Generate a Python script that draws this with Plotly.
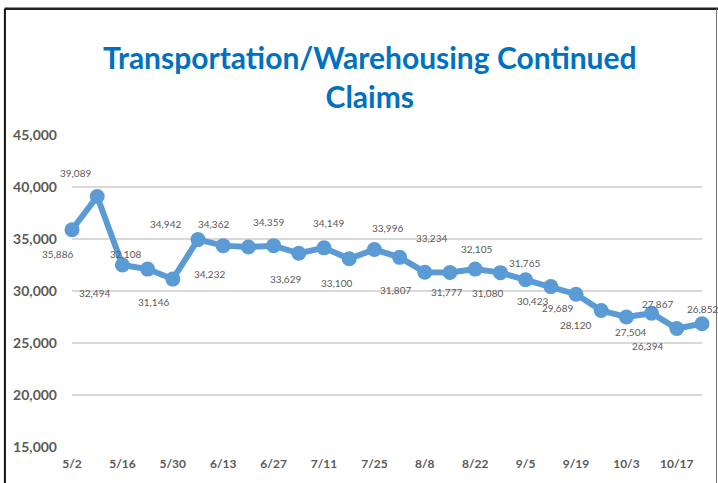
"""Transportation/Warehousing continued claims, weekly line chart."""

import plotly.graph_objects as go

weeks = [
    "5/2", "5/9", "5/16", "5/23", "5/30", "6/6", "6/13", "6/20", "6/27",
    "7/4", "7/11", "7/18", "7/25", "8/1", "8/8", "8/15", "8/22", "8/29",
    "9/5", "9/12", "9/19", "9/26", "10/3", "10/10", "10/17", "10/24",
]
claims = [
    35886, 39089, 32494, 32108, 31146, 34942, 34362, 34232, 34359,
    33629, 34149, 33100, 33996, 33234, 31807, 31777, 32105, 31765,
    31080, 30423, 29689, 28120, 27504, 27867, 26394, 26852,
]
y_ticks = [15000, 20000, 25000, 30000, 35000, 40000, 45000]

# label offsets in px (x right, y up), as placed in the original sheet
label_dx = [-15, -22, -28, -22, -19, -33, -10, -39, -5, -13, 4, -13, 13,
            32, -29, -4, 1, 24, -38, -18, -19, -26, 4, 6, -29, 0]
label_dy = [-24, 23, -28, 15, -23, 16, 22, -27, 24, -26, 25, -24, 21,
            19, -18, -19, 20, 10, -13, -14, -14, -14, -15, 9, -17, 15]

BLUE = "#5B9BD5"
GREY = "#595959"

fig = go.Figure(go.Scatter(
    x=weeks,
    y=claims,
    mode="lines+markers",
    line=dict(color=BLUE, width=6),
    marker=dict(color=BLUE, size=15),
    cliponaxis=False,
    hoverinfo="skip",
))

for wk, val, dx, dy in zip(weeks, claims, label_dx, label_dy):
    fig.add_annotation(
        x=wk, y=val, text=f"{val:,}", showarrow=False,
        xshift=dx, yshift=dy,
        font=dict(family="Lato", size=10, color=GREY),
    )

# frame lines round the chart (top, left dark; right thin grey)
fig.add_shape(type="line", xref="paper", yref="paper",
              x0=-0.107, x1=1.03, y0=1.405, y1=1.405,
              line=dict(color="#222222", width=2.5))
fig.add_shape(type="line", xref="paper", yref="paper",
              x0=-0.1065, x1=-0.1065, y0=1.405, y1=-0.2,
              line=dict(color="#111111", width=2))
fig.add_shape(type="line", xref="paper", yref="paper",
              x0=1.023, x1=1.023, y0=1.405, y1=-0.2,
              line=dict(color="#777777", width=1))

fig.update_layout(
    width=718,
    height=483,
    margin=dict(l=72, r=16, t=135, b=36),
    paper_bgcolor="white",
    plot_bgcolor="white",
    showlegend=False,
    title=dict(
        text="<b>Transportation/Warehousing Continued<br>Claims</b>",
        font=dict(family="Lato", size=30, color="#0070C0"),
        x=0.515, xanchor="center",
        y=0.857, yref="container", yanchor="middle",
    ),
)
fig.update_xaxes(
    type="category",
    range=[0, len(weeks) - 1],
    tickmode="array",
    tickvals=weeks[::2],
    ticktext=weeks[::2],
    showgrid=False,
    showline=False,
    zeroline=False,
    ticks="",
    ticklabelstandoff=8,
    tickfont=dict(family="Lato", size=12, color=GREY, weight="bold"),
)
fig.update_yaxes(
    range=[15000, 45000],
    tickmode="array",
    tickvals=y_ticks,
    tickformat=",",
    showgrid=True,
    gridcolor="#D9D9D9",
    gridwidth=1.5,
    zeroline=False,
    showline=False,
    ticks="",
    ticklabelstandoff=14,
    tickfont=dict(family="Lato", size=14, color=GREY, weight="bold"),
)

# the page's default body margin would push the chart off its frame
fig.write_html(
    "out.html",
    config={"displayModeBar": False},
    post_script="document.body.style.margin='0';",
)
